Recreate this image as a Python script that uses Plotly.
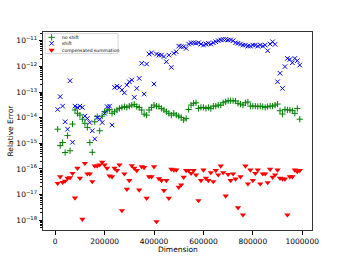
import plotly.graph_objects as go

# Dimension values (x)
dimension = [i * 10000 for i in range(1, 100)]

# log10 of relative error
no_shift_log10 = [
    -14.45, -15.09, -14.97, -15.36, -14.70, -15.29, -14.25, -13.70, -13.83, -13.90,
    -14.06, -14.22, -14.38, -14.97, -15.35, -14.16, -13.96, -14.51, -13.94, -13.77,
    -13.73, -13.68, -13.83, -13.77, -13.70, -13.64, -13.60, -13.57, -13.60, -13.55,
    -13.51, -13.48, -13.57, -13.60, -13.70, -13.86, -13.90, -13.70, -13.60, -13.51,
    -13.55, -13.57, -13.64, -13.70, -13.77, -13.83, -13.90, -13.83, -13.90, -13.94,
    -13.99, -14.09, -14.03, -13.68, -13.51, -13.44, -13.42, -13.64, -13.60, -13.60,
    -13.64, -13.60, -13.65, -13.55, -13.55, -13.51, -13.51, -13.42, -13.38, -13.34,
    -13.34, -13.34, -13.35, -13.44, -13.47, -13.51, -13.42, -13.39, -13.55, -13.55,
    -13.55, -13.57, -13.55, -13.57, -13.60, -13.57, -13.55, -13.55, -13.51, -13.47,
    -13.73, -13.86, -13.68, -13.70, -13.70, -13.73, -13.83, -13.64, -14.06,
]
shift_log10 = [
    -13.68, -13.18, -13.55, -14.16, -14.45, -12.56, -14.96, -13.55, -13.60, -13.55,
    -13.60, -13.94, -14.03, -14.19, -14.51, -14.83, -13.99, -14.06, -14.19, -13.83,
    -13.57, -13.55, -14.29, -12.82, -12.77, -12.82, -12.92, -13.03, -12.73, -12.60,
    -12.53, -13.21, -12.86, -12.47, -11.88, -13.08, -11.91, -11.52, -11.47, -12.69,
    -11.52, -11.56, -11.56, -11.62, -11.82, -11.56, -12.04, -11.49, -11.43, -11.21,
    -11.23, -11.23, -11.30, -11.13, -11.08, -11.08, -11.10, -11.08, -11.13, -11.17,
    -11.13, -11.10, -11.13, -11.08, -11.04, -11.00, -10.97, -10.95, -10.95, -10.97,
    -10.97, -11.00, -11.08, -11.10, -11.13, -11.17, -11.17, -11.21, -11.21, -11.17,
    -11.17, -11.21, -11.17, -11.21, -11.17, -11.39, -11.13, -11.04, -11.14, -12.60,
    -12.27, -12.86, -12.01, -11.69, -11.73, -11.86, -11.69, -11.78, -11.95,
]
compensated_log10 = [
    -16.56, -16.30, -16.52, -16.47, -16.36, -16.34, -16.17, -17.13, -15.97, -16.36,
    -17.96, -15.78, -16.19, -16.19, -16.49, -15.88, -15.88, -15.84, -15.73, -15.84,
    -15.97, -16.27, -16.30, -15.97, -16.06, -15.84, -17.62, -16.19, -16.79, -16.45,
    -15.87, -15.97, -16.06, -16.82, -15.91, -15.94, -17.14, -16.30, -16.30, -15.91,
    -18.05, -16.38, -16.45, -16.84, -16.45, -17.14, -16.01, -16.04, -16.04, -16.71,
    -16.62, -16.32, -16.06, -16.06, -16.17, -16.06, -16.23, -17.23, -16.45, -16.04,
    -16.36, -16.45, -16.14, -16.49, -16.06, -16.23, -15.88, -16.14, -17.05, -16.21,
    -16.45, -16.19, -16.39, -17.51, -16.30, -17.79, -15.88, -16.58, -16.04, -16.45,
    -16.17, -16.04, -16.58, -16.19, -16.19, -16.53, -16.01, -16.32, -16.23, -16.04,
    -16.36, -16.39, -16.39, -17.79, -16.30, -16.30, -16.04, -16.10, -16.06,
]

series_names = ["no shift", "shift", "compensated summation"]
x_tick_vals = [0, 200000, 400000, 600000, 800000, 1000000]
x_tick_text = ["0", "200000", "400000", "600000", "800000", "1000000"]
y_exponents = [-18, -17, -16, -15, -14, -13, -12, -11]

no_shift = [10 ** e for e in no_shift_log10]
shift = [10 ** e for e in shift_log10]
compensated = [10 ** e for e in compensated_log10]

FONT = "DejaVu Sans"
styles = [
    dict(symbol="cross-thin", size=4.5, color="#008000", line=dict(width=1, color="#008000")),
    dict(symbol="x-thin", size=4.5, color="#0000ff", line=dict(width=1, color="#0000ff")),
    dict(symbol="triangle-down", size=5.5, color="#ff0000", line=dict(width=0)),
]

fig = go.Figure()
for name, ys, st in zip(series_names, [no_shift, shift, compensated], styles):
    fig.add_trace(go.Scatter(x=dimension, y=ys, mode="markers", name=name,
                             marker=st, showlegend=False, hoverinfo="skip"))

# Custom compact legend (symbols on a helper 0..1 axis)
leg_y = [0.973, 0.943, 0.909]
for name, st, ly in zip(series_names, styles, leg_y):
    fig.add_trace(go.Scatter(x=[0.032], y=[ly], mode="markers", marker=st,
                             xaxis="x2", yaxis="y2", showlegend=False, hoverinfo="skip"))
    fig.add_annotation(x=0.063, y=ly, xref="paper", yref="paper", text=name,
                       showarrow=False, xanchor="left", yanchor="middle",
                       font=dict(family=FONT, size=4.5, color="black"))
fig.add_shape(type="rect", xref="paper", yref="paper", x0=0.0074, x1=0.279,
              y0=0.891, y1=0.992, line=dict(color="#cccccc", width=0.8),
              fillcolor="rgba(255,255,255,0.8)", layer="below")

# Axis titles
fig.add_annotation(x=0.5, y=-0.096, xref="paper", yref="paper", text="Dimension",
                   showarrow=False, xanchor="center", yanchor="middle",
                   font=dict(family=FONT, size=7.5, color="black"))
fig.add_annotation(x=-0.1245, y=0.5, xref="paper", yref="paper", text="Relative Error",
                   showarrow=False, xanchor="center", yanchor="middle", textangle=-90,
                   font=dict(family=FONT, size=7.5, color="black"))

minor_vals = [m * 10 ** e for e in range(-19, -10) for m in range(2, 10)]

fig.update_layout(
    width=346, height=260,
    margin=dict(l=43, r=34, t=32, b=30),
    paper_bgcolor="white", plot_bgcolor="white",
    font=dict(family=FONT, size=7.5, color="black"),
    xaxis=dict(
        range=[-49500, 1039500], tickmode="array", tickvals=x_tick_vals,
        ticktext=x_tick_text, ticks="outside", ticklen=3.5, tickwidth=0.8,
        tickcolor="black", showgrid=False, zeroline=False, automargin=False,
        showline=True, linecolor="#333333", linewidth=1, mirror=True,
        tickfont=dict(size=7.5),
    ),
    yaxis=dict(
        type="log", range=[-18.38, -10.66], tickmode="array",
        tickvals=[10 ** e for e in y_exponents],
        ticktext=["10<sup>\u2212%d</sup>" % (-e) for e in y_exponents],
        ticks="outside", ticklen=3.5, tickwidth=0.8, tickcolor="black",
        showgrid=False, zeroline=False, automargin=False,
        showline=True, linecolor="#333333", linewidth=1, mirror=True,
        minor=dict(tickmode="array", tickvals=minor_vals, ticks="outside",
                   ticklen=2, tickwidth=0.6, tickcolor="black", showgrid=False),
        tickfont=dict(size=7.5),
    ),
    xaxis2=dict(overlaying="x", range=[0, 1], visible=False, fixedrange=True),
    yaxis2=dict(overlaying="y", range=[0, 1], visible=False, fixedrange=True),
)

fig.write_html(
    "out.html",
    config={"displayModeBar": False},
    post_script="document.body.style.margin='0';document.body.style.overflow='hidden';",
)
